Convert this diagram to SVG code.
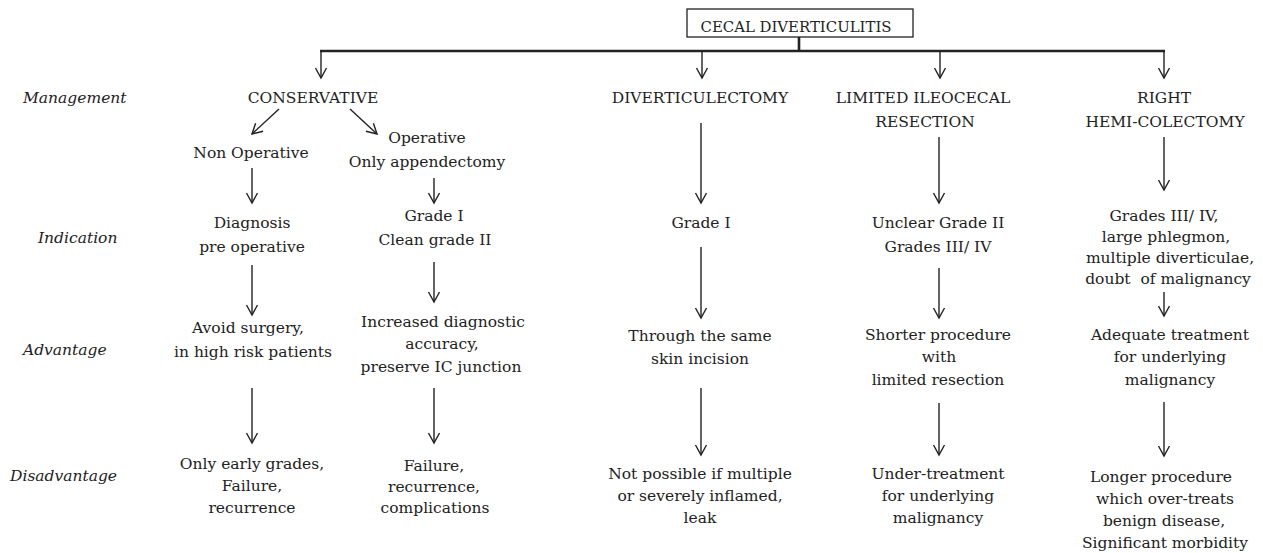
<svg xmlns="http://www.w3.org/2000/svg" width="1263" height="553" viewBox="0 0 1263 553">
<style>
text{font-family:"DejaVu Serif","Liberation Serif",serif;font-size:15.5px;fill:#222;text-anchor:middle}
.lab{font-style:italic;text-anchor:start}
.ln{stroke:#222;stroke-width:1.4;fill:none}
.thick{stroke:#222;stroke-width:2.6;fill:none}
.box{fill:#fff;stroke:#222;stroke-width:1.3}
</style>
<defs>
<marker id="arr" viewBox="-12 -7 14 14" refX="0" refY="0" markerWidth="14" markerHeight="14" markerUnits="userSpaceOnUse" orient="auto">
<path d="M-10,-5.5 L0,0 L-10,5.5" fill="none" stroke="#222" stroke-width="1.4"/>
</marker>
</defs>
<rect width="1263" height="553" fill="#fff"/>
<g id="labels">
<text class="lab" x="23" y="103">Management</text>
<text class="lab" x="38" y="243">Indication</text>
<text class="lab" x="23" y="355">Advantage</text>
<text class="lab" x="10" y="481">Disadvantage</text>
</g>
<g id="connectors">
<path class="thick" d="M799,37 V51 M320,51 H1165"/>
<g class="ln" marker-end="url(#arr)">
<path d="M321,50 V78"/>
<path d="M702,50 V78"/>
<path d="M940,50 V78"/>
<path d="M1164,50 V78"/>
<path d="M279,109 L252,134"/>
<path d="M350,109 L377,134"/>
<path d="M252,168 V203"/>
<path d="M252,265 V315"/>
<path d="M252,388 V443"/>
<path d="M434,178 V203"/>
<path d="M434,262 V302"/>
<path d="M434,388 V443"/>
<path d="M701,123 V203"/>
<path d="M701,247 V318"/>
<path d="M701,388 V455"/>
<path d="M939,137 V203"/>
<path d="M939,268 V318"/>
<path d="M939,403 V455"/>
<path d="M1164,137 V190"/>
<path d="M1164,292 V316"/>
<path d="M1164,402 V456"/>
</g>
</g>
<g id="root">
<rect class="box" x="687" y="9" width="226" height="28"/>
<text x="796" y="32" textLength="191" lengthAdjust="spacingAndGlyphs">CECAL DIVERTICULITIS</text>
</g>
<g id="conservative"><text x="313" y="103">CONSERVATIVE</text></g>
<g id="nonoperative"><text x="251" y="158">Non Operative</text></g>
<g id="operative"><text x="427" y="143">Operative</text><text x="427" y="167">Only appendectomy</text></g>
<g id="diverticulectomy"><text x="700" y="103">DIVERTICULECTOMY</text></g>
<g id="ileocecal"><text x="923" y="103">LIMITED ILEOCECAL</text><text x="925" y="127">RESECTION</text></g>
<g id="hemicolectomy"><text x="1164" y="103">RIGHT</text><text x="1165" y="127">HEMI-COLECTOMY</text></g>
<g id="ind-nonop"><text x="252" y="228">Diagnosis</text><text x="252" y="252">pre operative</text></g>
<g id="ind-op"><text x="434" y="221">Grade I</text><text x="435" y="245">Clean grade II</text></g>
<g id="ind-div"><text x="701" y="228">Grade I</text></g>
<g id="ind-ileo"><text x="938" y="228">Unclear Grade II</text><text x="938" y="252">Grades III/ IV</text></g>
<g id="ind-hemi"><text x="1164" y="221">Grades III/ IV,</text><text x="1166" y="242">large phlegmon,</text><text x="1170" y="263">multiple diverticulae,</text><text x="1168" y="284" xml:space="preserve">doubt  of malignancy</text></g>
<g id="adv-nonop"><text x="248" y="333">Avoid surgery,</text><text x="253" y="357">in high risk patients</text></g>
<g id="adv-op"><text x="443" y="327">Increased diagnostic</text><text x="442" y="349">accuracy,</text><text x="441" y="372">preserve IC junction</text></g>
<g id="adv-div"><text x="700" y="341">Through the same</text><text x="700" y="364">skin incision</text></g>
<g id="adv-ileo"><text x="938" y="340">Shorter procedure</text><text x="939" y="362">with</text><text x="938" y="385">limited resection</text></g>
<g id="adv-hemi"><text x="1170" y="340">Adequate treatment</text><text x="1170" y="362">for underlying</text><text x="1170" y="385">malignancy</text></g>
<g id="dis-nonop"><text x="252" y="469">Only early grades,</text><text x="252" y="491">Failure,</text><text x="252" y="513">recurrence</text></g>
<g id="dis-op"><text x="434" y="471">Failure,</text><text x="434" y="492">recurrence,</text><text x="435" y="513">complications</text></g>
<g id="dis-div"><text x="700" y="479">Not possible if multiple</text><text x="700" y="501">or severely inflamed,</text><text x="700" y="523">leak</text></g>
<g id="dis-ileo"><text x="938" y="479">Under-treatment</text><text x="938" y="501">for underlying</text><text x="938" y="523">malignancy</text></g>
<g id="dis-hemi"><text x="1161" y="482">Longer procedure</text><text x="1165" y="504">which over-treats</text><text x="1164" y="526">benign disease,</text><text x="1165" y="548">Significant morbidity</text></g>
</svg>
